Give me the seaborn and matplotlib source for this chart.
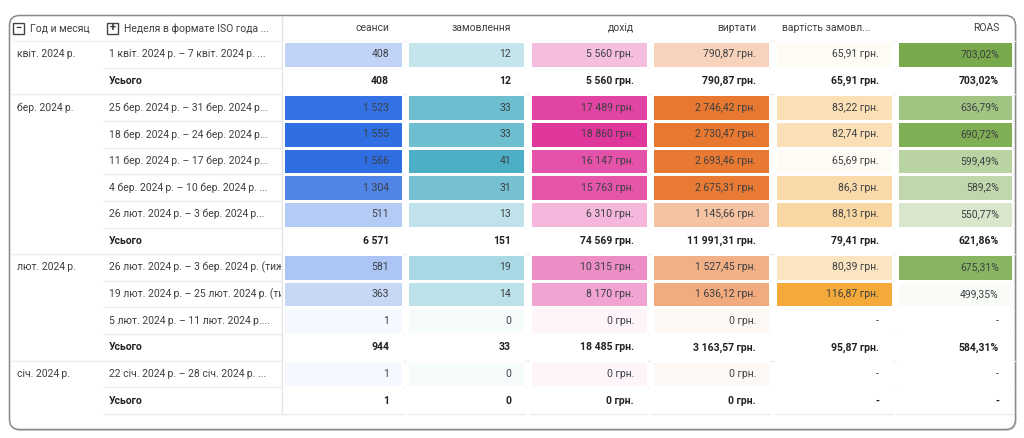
import matplotlib
matplotlib.use('Agg')
import matplotlib.pyplot as plt
import seaborn as sns
import numpy as np
from matplotlib.colors import LinearSegmentedColormap, to_rgb
from matplotlib.patches import FancyBboxPatch, Rectangle

# ---- data ----
months = ['квіт. 2024\u202fр.', 'бер. 2024\u202fр.', 'лют. 2024\u202fр.', 'січ. 2024\u202fр.']
weeks = [
    ['1 квіт. 2024\u202fр. – 7 квіт. 2024\u202fр. ...'],
    ['25 бер. 2024\u202fр. – 31 бер. 2024\u202fр...',
     '18 бер. 2024\u202fр. – 24 бер. 2024\u202fр...',
     '11 бер. 2024\u202fр. – 17 бер. 2024\u202fр...',
     '4 бер. 2024\u202fр. – 10 бер. 2024\u202fр. ...',
     '26 лют. 2024\u202fр. – 3 бер. 2024\u202fр...'],
    ['26 лют. 2024\u202fр. – 3 бер. 2024\u202fр. (тиждень 9)',
     '19 лют. 2024\u202fр. – 25 лют. 2024\u202fр. (тиждень 8)',
     '5 лют. 2024\u202fр. – 11 лют. 2024\u202fр....'],
    ['22 січ. 2024\u202fр. – 28 січ. 2024\u202fр. ...'],
]
total_label = 'Усього'

# rows: weeks of each month followed by its total
sessions = [408, 408, 1523, 1555, 1566, 1304, 511, 6571, 581, 363, 1, 944, 1, 1]
orders = [12, 12, 33, 33, 41, 31, 13, 151, 19, 14, 0, 33, 0, 0]
revenue = [5560, 5560, 17489, 18860, 16147, 15763, 6310, 74569, 10315, 8170, 0, 18485, 0, 0]
costs = [790.87, 790.87, 2746.42, 2730.47, 2693.46, 2675.31, 1145.66, 11991.31,
         1527.45, 1636.12, 0, 3163.57, 0, 0]
order_cost = [65.91, 65.91, 83.22, 82.74, 65.69, 86.3, 88.13, 79.41,
              80.39, 116.87, np.nan, 95.87, np.nan, np.nan]
roas = [703.02, 703.02, 636.79, 690.72, 599.49, 589.2, 550.77, 621.86,
        675.31, 499.35, np.nan, 584.31, np.nan, np.nan]

columns = ['сеанси', 'замовлення', 'дохід', 'виртати', 'вартість замовл...', 'ROAS']
col_values = [sessions, orders, revenue, costs, order_cost, roas]
col_suffix = ['', '', ' грн.', ' грн.', ' грн.', '%']
col_colors = ['#2f6de3', '#4cafc5', '#e0379c', '#e8772f', '#f3aa3a', '#78a94b']

# ---- build row structure ----
row_month, row_week, is_total = [], [], []
for m, wk in zip(months, weeks):
    for j, w in enumerate(wk):
        row_month.append(m if j == 0 else '')
        row_week.append(w)
        is_total.append(False)
    row_month.append('')
    row_week.append(total_label)
    is_total.append(True)
is_total = np.array(is_total)
n_rows = len(row_week)


def fmt(v, suffix):
    if np.isnan(v):
        return '-'
    s = f'{v:,.2f}'.rstrip('0').rstrip('.')
    s = s.replace(',', ' ').replace('.', ',')
    return s + suffix


sns.set_theme(style='white')
plt.rcParams['font.family'] = ['Roboto', 'DejaVu Sans']
txt_color = '#3c4043'
fs = 7.5

W, H = 1024, 438
fig = plt.figure(figsize=(W / 100, H / 100), dpi=100)
fig.patch.set_facecolor('white')

# layout in pixels
top, bottom = 41, 414
rh = (bottom - top) / n_rows
col_x = [(283, 403), (407, 525), (530, 648), (652, 770), (775, 893), (897, 1013)]

# background axes in pixel coords
bg = fig.add_axes([0, 0, 1, 1])
bg.set_xlim(0, W)
bg.set_ylim(H, 0)
bg.axis('off')
bg.add_patch(FancyBboxPatch((10.5, 17), 1006, 414, boxstyle='round,pad=0,rounding_size=10',
                            ec='none', fc='#d6d6d6', zorder=0))
bg.add_patch(FancyBboxPatch((9.5, 15.5), 1006, 414, boxstyle='round,pad=0,rounding_size=10',
                            ec='#8a8a8a', lw=1.1, fc='white', zorder=1))
line_c = '#ebebeb'
bg.plot([282, 282], [16, bottom], color='#e2e2e2', lw=1, zorder=2)
bg.plot([10, 1015], [top, top], color='#f0f0f0', lw=0.8, zorder=2)
for i in range(n_rows):
    y = top + (i + 1) * rh
    segs = [(103, 281)] + col_x
    if is_total[i] and i < n_rows - 1:
        segs = [(10, 1015)]
    for x0, x1 in segs:
        bg.plot([x0, x1], [y, y], color=line_c, lw=1, zorder=2)

# label area
lab = fig.add_axes([0, 0, 281 / W, 1])
lab.set_xlim(0, 281)
lab.set_ylim(H, 0)
lab.axis('off')
for i in range(n_rows):
    yc = top + (i + 0.5) * rh
    if row_month[i]:
        lab.text(17, yc, row_month[i], ha='left', va='center', fontsize=fs,
                 color=txt_color, clip_on=True)
    lab.text(109, yc, row_week[i], ha='left', va='center', fontsize=fs,
             color='#202124' if is_total[i] else txt_color,
             fontweight='bold' if is_total[i] else 'normal', clip_on=True)

# header icons and labels
for (bx, sym, label) in [(13, '−', 'Год и месяц'), (107, '+', 'Неделя в формате ISO года ...')]:
    lab.add_patch(Rectangle((bx, 22.5), 11, 11, fill=False, ec='#444444', lw=1.0))
    lab.text(bx + 5.5, 28.2, sym, ha='center', va='center', fontsize=8,
             color='#333333', fontweight='bold')
    lab.text(bx + 17, 28.5, label, ha='left', va='center', fontsize=fs,
             color=txt_color, clip_on=True)

# heatmap columns
for name, vals, suf, colr, (x0, x1) in zip(columns, col_values, col_suffix, col_colors, col_x):
    arr = np.array(vals, dtype=float)
    mask = is_total | np.isnan(arr)
    week_vals = arr[~mask]
    base = np.array(to_rgb(colr))
    light = 1 - 0.05 * (1 - base)
    cmap = LinearSegmentedColormap.from_list(name, [light, base])
    ax = fig.add_axes([x0 / W, 1 - bottom / H, (x1 - x0) / W, (bottom - top) / H])
    sns.heatmap(arr.reshape(-1, 1), mask=mask.reshape(-1, 1), cmap=cmap,
                vmin=week_vals.min(), vmax=week_vals.max(), cbar=False,
                linewidths=0.9, linecolor='white', xticklabels=False,
                yticklabels=False, ax=ax)
    ax.patch.set_alpha(0)
    for i, v in enumerate(arr):
        ax.annotate(fmt(v, suf), xy=(1, i + 0.5), xytext=(-14, 0),
                    textcoords='offset pixels', ha='right', va='center',
                    fontsize=fs, color='#202124' if is_total[i] else txt_color,
                    fontweight='bold' if is_total[i] else 'normal',
                    annotation_clip=False)
    if name.endswith('...'):
        ax.annotate(name, xy=(0, 0), xytext=(7, 13), textcoords='offset pixels',
                    ha='left', va='center', fontsize=fs, color=txt_color,
                    annotation_clip=False)
    else:
        ax.annotate(name, xy=(1, 0), xytext=(-14, 13), textcoords='offset pixels',
                    ha='right', va='center', fontsize=fs, color=txt_color,
                    annotation_clip=False)

fig.savefig('out.png', dpi=100, facecolor='white')
